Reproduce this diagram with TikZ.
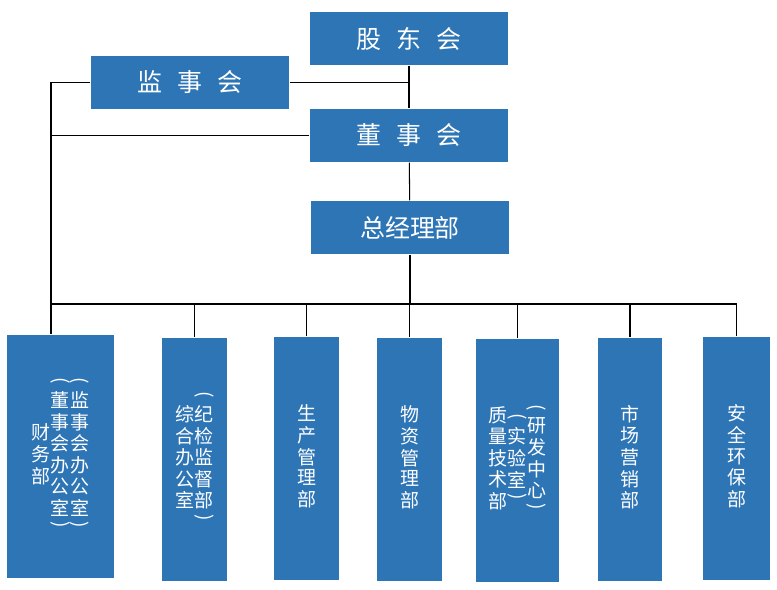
\documentclass[tikz,border=0pt]{standalone}
\usepackage{fontspec}
\setmainfont{Noto Sans CJK SC}

\definecolor{lanse}{RGB}{46,117,182}
% 竖排文字：一列一个 tabular
\newcommand{\shu}[1]{\begin{tabular}{@{}c@{}}#1\end{tabular}}
% 竖排括号
\newcommand{\zk}{\raisebox{1.5pt}{\rotatebox[origin=c]{-90}{(}}\\[-2pt]}
\newcommand{\yk}{\\[-2pt]\rotatebox[origin=c]{-90}{)}}

\begin{document}
\begin{tikzpicture}[x=0.2mm, y=-0.2mm, line width=0.6pt,
  kuang/.style={fill=lanse, text=white, inner sep=0pt},
  ding/.style={kuang, minimum width=39.6mm, minimum height=10.6mm, font=\fontsize{14.2pt}{17pt}\selectfont},
  bumen/.style={kuang, minimum height=48.6mm, font=\fontsize{10.8pt}{10.8pt}\selectfont}]
  \useasboundingbox (0,0) rectangle (777,589);
  % 上层机构
  \node[ding] (gdh) at (409,38.5) {股\hspace{0.6em}东\hspace{0.6em}会};
  \node[ding] (jsh) at (190,82.5) {监\hspace{0.6em}事\hspace{0.6em}会};
  \node[ding] (dsh) at (409,135.5) {董\hspace{0.6em}事\hspace{0.6em}会};
  \node[ding] (zjl) at (410,227.5) {总经理部};
  % 各部门
  \node[bumen, minimum width=21.4mm] (cwb) at (60.5,456.5)
    {\shu{财\\务\\部}\shu{\zk 董\\事\\会\\办\\公\\室\yk}\shu{\zk 监\\事\\会\\办\\公\\室\yk}};
  \node[bumen, minimum width=13mm] (zhb) at (194.5,459.5)
    {\shu{综\\合\\办\\公\\室}\shu{\zk 纪\\检\\监\\督\\部\yk}};
  \node[bumen, minimum width=13mm] (scb) at (306.5,458.5) {\shu{生\\产\\管\\理\\部}};
  \node[bumen, minimum width=13mm] (wzb) at (409.5,459.5) {\shu{物\\资\\管\\理\\部}};
  \node[bumen, minimum width=16.6mm] (zlb) at (517.5,460.5)
    {\shu{质\\量\\技\\术\\部}\shu{\zk 实\\验\\室\yk}\shu{\zk 研\\发\\中\\心\yk}};
  \node[bumen, minimum width=12.8mm] (scyb) at (630,459.5) {\shu{市\\场\\营\\销\\部}};
  \node[bumen, minimum width=13.4mm] (aqb) at (736.5,458.5) {\shu{安\\全\\环\\保\\部}};
  % 连线
  \coordinate (zuo) at (51,0);
  \coordinate (heng) at (0,304);
  \draw (gdh) -- (dsh);
  \draw (jsh.east) -- (jsh.east -| gdh.south);
  \draw (jsh.west) -- (jsh.west -| zuo) -- (zuo |- cwb.north);
  \draw (dsh.west) -- (dsh.west -| zuo);
  \draw (dsh) -- (zjl);
  \draw (zjl.south) -- (zjl.south |- heng);
  \draw (zuo |- heng) -- (aqb.north |- heng);
  \foreach \b in {zhb,scb,wzb,zlb,scyb,aqb}
    \draw (\b.north |- heng) -- (\b.north);
\end{tikzpicture}
\end{document}
